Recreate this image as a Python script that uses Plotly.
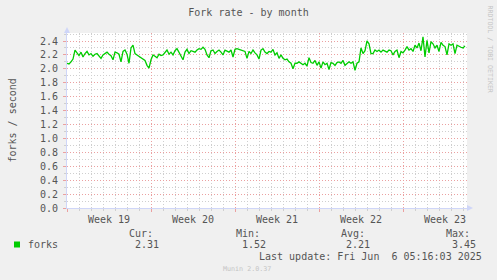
import pandas as pd
import plotly.graph_objects as go

# ---------------- data ----------------
start_time = "2025-05-05 00:00"
step_hours = 4
forks = [
    2.08, 2.07, 2.10, 2.14, 2.27, 2.22, 2.19, 2.24, 2.17, 2.22,
    2.25, 2.20, 2.22, 2.18, 2.21, 2.22, 2.19, 2.15, 2.20, 2.22,
    2.24, 2.21, 2.19, 2.13, 2.24, 2.23, 2.21, 2.10, 2.25, 2.27,
    2.21, 2.08, 2.30, 2.34, 2.22, 2.20, 2.18, 2.16, 2.15, 2.12,
    2.05, 2.01, 2.13, 2.20, 2.18, 2.16, 2.21, 2.19, 2.20, 2.23,
    2.27, 2.21, 2.24, 2.20, 2.26, 2.29, 2.24, 2.18, 2.13, 2.24,
    2.28, 2.22, 2.26, 2.25, 2.24, 2.27, 2.29, 2.28, 2.31, 2.28,
    2.20, 2.16, 2.26, 2.27, 2.22, 2.25, 2.27, 2.24, 2.20, 2.27,
    2.25, 2.24, 2.27, 2.17, 2.28, 2.29, 2.28, 2.27, 2.26, 2.25,
    2.15, 2.25, 2.22, 2.27, 2.23, 2.20, 2.14, 2.27, 2.29, 2.24,
    2.22, 2.25, 2.24, 2.28, 2.20, 2.23, 2.15, 2.20, 2.15, 2.13,
    2.14, 2.10, 2.08, 2.00, 2.08, 2.08, 2.10, 2.08, 2.06, 2.08,
    2.04, 2.16, 2.09, 2.08, 2.12, 2.05, 2.10, 2.01, 2.10, 2.06,
    2.08, 1.99, 2.09, 2.08, 2.05, 2.09, 2.10, 2.08, 2.12, 2.05,
    2.08, 2.10, 2.08, 2.10, 1.98, 2.08, 2.10, 2.30, 2.22, 2.26,
    2.40, 2.36, 2.22, 2.22, 2.27, 2.25, 2.27, 2.24, 2.27, 2.25,
    2.24, 2.27, 2.26, 2.20, 2.25, 2.27, 2.16, 2.25, 2.23, 2.27,
    2.32, 2.27, 2.29, 2.25, 2.34, 2.30, 2.37, 2.26, 2.46, 2.17,
    2.41, 2.23, 2.39, 2.36, 2.30, 2.34, 2.25, 2.38, 2.34, 2.32,
    2.20, 2.36, 2.34, 2.36, 2.22, 2.34, 2.32, 2.31, 2.30, 2.33,
]
x_range = ["2025-05-05 00:00", "2025-06-07 08:00"]
week_bounds = ["2025-05-05", "2025-05-12", "2025-05-19", "2025-05-26", "2025-06-02"]
week_mids = ["2025-05-08 12:00", "2025-05-15 12:00", "2025-05-22 12:00",
             "2025-05-29 12:00", "2025-06-05 12:00"]
week_labels = ["Week 19", "Week 20", "Week 21", "Week 22", "Week 23"]
y_max = 2.515

title = "Fork rate - by month"
y_title = "forks / second"
series_name = "forks"
stat_names = ["Cur:", "Min:", "Avg:", "Max:"]
stat_values = ["2.31", "1.52", "2.21", "3.45"]
last_update = "Last update: Fri Jun\u00a0\u00a06 05:16:03 2025"
munin_ver = "Munin 2.0.37"
rrd_credit = "RRDTOOL / TOBI OETIKER"

# ---------------- style ----------------
FONT = "DejaVu Sans Mono"
FONT_COL = "#555555"
BACK = "#F0F0F0"
GRID = "#CFCFCF"
MGRID = "#EBA0A0"
AXIS = "#CFD6F8"
LINE = "#00CC00"
DASH = "1px,2px"

W, H = 497, 280
L, R, T, B = 67, 30, 33, 72
PW, PH = W - L - R, H - T - B


def px(xp):
    return (xp - L) / PW


def py(yp):
    return (H - B - yp) / PH


times = pd.date_range(start_time, periods=len(forks), freq=f"{step_hours}h")

fig = go.Figure()
fig.add_trace(go.Scatter(x=times, y=forks, mode="lines",
                         line=dict(color=LINE, width=1.3),
                         name=series_name, showlegend=False, hoverinfo="skip"))
fig.add_trace(go.Scatter(x=[times[0]], y=[None], xaxis="x2", showlegend=False,
                         hoverinfo="skip"))

fig.update_layout(
    width=W, height=H, autosize=False,
    margin=dict(l=L, r=R, t=T, b=B, pad=0),
    paper_bgcolor=BACK, plot_bgcolor="#FFFFFF",
    font=dict(family=FONT, size=10, color=FONT_COL),
    title=dict(text=title, x=0.5, xref="container", xanchor="center",
               y=1 - 12 / H, yref="container", yanchor="middle",
               font=dict(family=FONT, size=10, color=FONT_COL)),
    xaxis=dict(type="date", range=x_range, tickmode="array", tickvals=week_bounds,
               showticklabels=False, ticks="outside", ticklen=3, tickcolor=MGRID,
               showgrid=True, gridcolor=MGRID, griddash=DASH, gridwidth=1,
               showline=True, linecolor=AXIS, linewidth=1, zeroline=False,
               minor=dict(dtick=86400000, tick0="2025-05-05", showgrid=True,
                          gridcolor=GRID, griddash=DASH, gridwidth=1,
                          ticks="outside", ticklen=2, tickcolor=GRID)),
    xaxis2=dict(type="date", range=x_range, overlaying="x", anchor="y", side="bottom",
                tickmode="array", tickvals=week_mids, ticktext=week_labels,
                showgrid=False, ticks="", showline=False, zeroline=False,
                ticklabelstandoff=4,
                tickfont=dict(family=FONT, size=10, color=FONT_COL)),
    yaxis=dict(range=[0, y_max], dtick=0.2, tick0=0, tickformat=".1f",
               ticks="outside", ticklen=3, tickcolor=MGRID, ticklabelstandoff=3,
               showgrid=True, gridcolor=MGRID, griddash=DASH, gridwidth=1,
               showline=True, linecolor=AXIS, linewidth=1, zeroline=False,
               tickfont=dict(family=FONT, size=10, color=FONT_COL),
               minor=dict(dtick=0.1, showgrid=True, gridcolor=GRID, griddash=DASH,
                          gridwidth=1, ticks="outside", ticklen=2, tickcolor=GRID)),
)

# axis arrows
fig.add_shape(type="path", xref="x domain", yref="y domain", xsizemode="pixel",
              ysizemode="pixel", xanchor=0, yanchor=1,
              path="M -3,0 L 3,0 L 0,6 Z", fillcolor=AXIS, line=dict(width=0))
fig.add_shape(type="path", xref="x domain", yref="y domain", xsizemode="pixel",
              ysizemode="pixel", xanchor=1, yanchor=0,
              path="M 0,-3 L 0,3 L 6,0 Z", fillcolor=AXIS, line=dict(width=0))

ann = []
ann.append(dict(text=y_title, x=px(12), y=py(120.5), textangle=-90))
# legend
fig.add_shape(type="rect", xref="paper", yref="paper", x0=px(14), x1=px(20),
              y0=py(247.5), y1=py(241.5), fillcolor=LINE, line=dict(width=0))
ann.append(dict(text=series_name, x=px(26.5), y=py(244.5), xanchor="left"))
stat_right_x = [153.5, 260.5, 365.5, 470.5]
val_right_x = [159.5, 267, 371, 477]
for nm, xr in zip(stat_names, stat_right_x):
    ann.append(dict(text=nm, x=px(xr), y=py(233.5), xanchor="right"))
for v, xr in zip(stat_values, val_right_x):
    ann.append(dict(text=v, x=px(xr), y=py(244.5), xanchor="right"))
ann.append(dict(text=last_update, x=px(482.5), y=py(256.5), xanchor="right"))
ann.append(dict(text=munin_ver, x=px(247), y=py(269), font=dict(size=6.7, color="#C4C4C4")))
ann.append(dict(text=rrd_credit, x=px(489), y=py(48.5), textangle=90,
                font=dict(size=6.6, color="#C4C4C4")))

for a in ann:
    a.setdefault("xref", "paper")
    a.setdefault("yref", "paper")
    a.setdefault("showarrow", False)
    a.setdefault("xanchor", "center")
    a.setdefault("yanchor", "middle")
    a.setdefault("font", dict(size=10, color=FONT_COL))
    a["font"].setdefault("family", FONT)
    a["borderpad"] = 0
    fig.add_annotation(**a)

fig.write_html("out.html")
